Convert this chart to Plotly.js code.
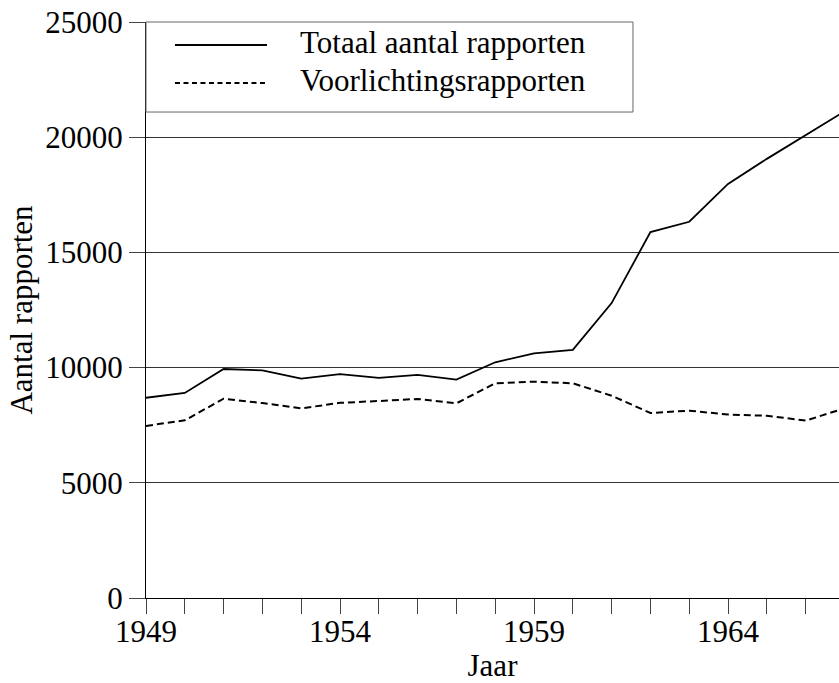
<!DOCTYPE html>
<html>
<head>
<meta charset="utf-8">
<script src="https://cdn.plot.ly/plotly-3.0.1.min.js"></script>
<style>html,body{margin:0;padding:0;background:#fff;}#chart{width:839px;height:683px;}</style>
</head>
<body>
<div id="chart"></div>
<script>
var years = [1949,1950,1951,1952,1953,1954,1955,1956,1957,1958,1959,1960,1961,1962,1963,1964,1965,1966,1967];
var totaal = [8690,8900,9940,9880,9520,9720,9550,9680,9480,10230,10620,10770,12800,15880,16330,17970,19060,20100,21120];
var voorlichting = [7470,7710,8650,8460,8230,8470,8550,8640,8450,9320,9390,9320,8780,8030,8130,7960,7910,7700,8230];
var names = ['Totaal aantal rapporten','Voorlichtingsrapporten'];
var labelYears = [1949,1954,1959,1964];
var yTicks = [0,5000,10000,15000,20000,25000];

var font = '"Liberation Serif", "Times New Roman", serif';
var FS = 31;
var dashes = ['solid', '7px,4px'];
var legDashes = ['solid', '5px,3.5px'];
var traces = [
  {x: years, y: totaal, type: 'scatter', mode: 'lines', name: names[0], showlegend: false,
   line: {color: '#000', width: 1.8, dash: dashes[0]}},
  {x: years, y: voorlichting, type: 'scatter', mode: 'lines', name: names[1], showlegend: false,
   line: {color: '#000', width: 2, dash: dashes[1]}}
];

// custom legend box (paper coordinates)
var legY = [0.9601, 0.8941];
var shapes = [
  {type: 'rect', xref: 'paper', yref: 'paper', x0: 0, x1: 0.7027, y0: 0.8437, y1: 1,
   line: {color: '#666', width: 1}, fillcolor: '#fff', layer: 'above'}
];
var annotations = [];
for (var i = 0; i < names.length; i++) {
  shapes.push({type: 'line', xref: 'paper', yref: 'paper', x0: 0.0418, x1: 0.1746, y0: legY[i], y1: legY[i],
    line: {color: '#000', width: 1.8, dash: legDashes[i]}, layer: 'above'});
  annotations.push({xref: 'paper', yref: 'paper', x: 0.2193, y: legY[i] + 0.005, xanchor: 'left', yanchor: 'middle',
    text: names[i], showarrow: false, font: {family: font, size: FS, color: '#000'}});
}

var layout = {
  width: 839, height: 683,
  margin: {l: 146, r: 0, t: 22, b: 85},
  paper_bgcolor: '#fff', plot_bgcolor: '#fff',
  font: {family: font, size: FS, color: '#000'},
  showlegend: false,
  shapes: shapes,
  annotations: annotations,
  xaxis: {range: [1949, 1966.86], tickmode: 'array', tickvals: labelYears,
    ticks: 'outside', ticklen: 15, tickcolor: '#444', tickwidth: 1,
    minor: {tickmode: 'linear', tick0: 1949, dtick: 1, ticks: 'outside', ticklen: 15, tickcolor: '#444', showgrid: false},
    showgrid: false, zeroline: false, showline: true, linecolor: '#000', linewidth: 1,
    tickfont: {family: font, size: FS}, ticklabelstandoff: -9, automargin: true,
    title: {text: 'Jaar', font: {family: font, size: FS}, standoff: 2}},
  yaxis: {range: [0, 25000], tickmode: 'array', tickvals: yTicks, tickformat: 'd',
    ticks: 'outside', ticklen: 16, tickcolor: '#444', tickwidth: 1,
    showgrid: true, gridcolor: '#333', gridwidth: 1, zeroline: false,
    showline: true, linecolor: '#000', linewidth: 1,
    tickfont: {family: font, size: FS},
    title: {text: 'Aantal rapporten', font: {family: font, size: FS}, standoff: 3}}
};
Plotly.newPlot('chart', traces, layout, {displayModeBar: false, staticPlot: true});
</script>
</body>
</html>
